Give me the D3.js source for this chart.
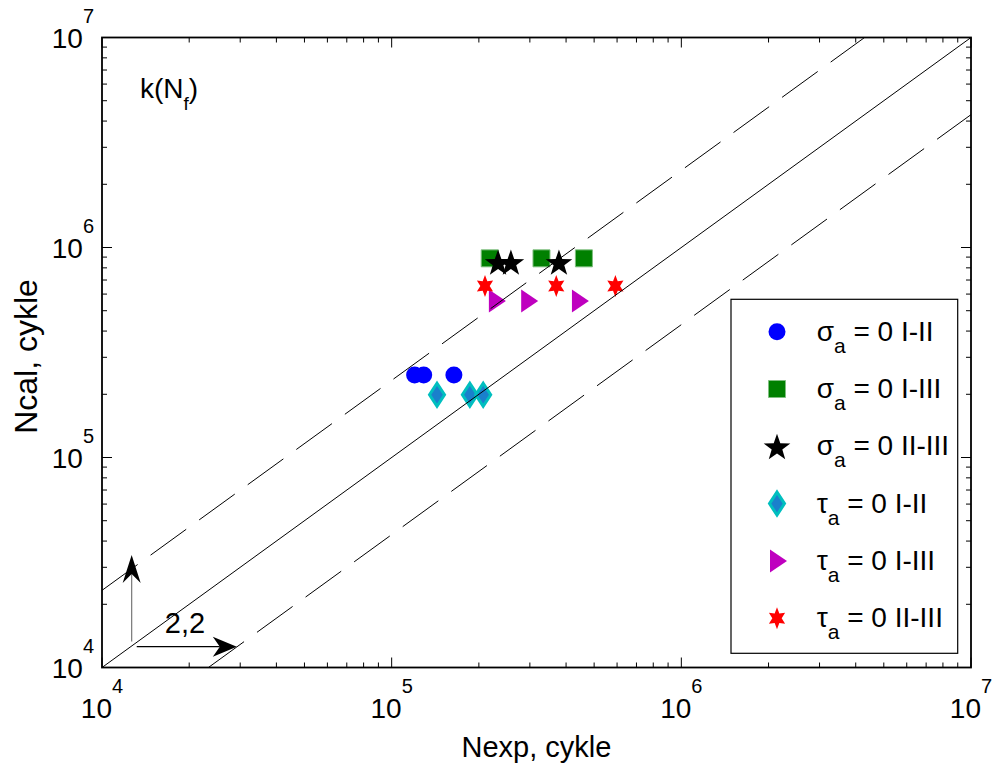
<!DOCTYPE html>
<html><head><meta charset="utf-8">
<script src="https://cdn.jsdelivr.net/npm/d3@7"></script>
<style>
body{margin:0;background:#fff;}
svg{display:block;font-family:"Liberation Sans",Arial,sans-serif;}
</style></head>
<body><svg id="c" width="998" height="769"></svg>
<script>
// ---- data ----
const majorTicks = [1e4, 1e5, 1e6, 1e7];
const tickExponents = ["4", "5", "6", "7"];
const seriesNames = ["σ|a| = 0 I-II", "σ|a| = 0 I-III", "σ|a| = 0 II-III", "τ|a| = 0 I-II", "τ|a| = 0 I-III", "τ|a| = 0 II-III"];
const sigmaI_II_exp   = [1.20e5, 1.29e5, 1.64e5];
const sigmaI_II_cal   = [2.47e5, 2.47e5, 2.47e5];
const sigmaI_III_exp  = [2.18e5, 3.29e5, 4.61e5];
const sigmaI_III_cal  = [8.88e5, 8.88e5, 8.88e5];
const sigmaII_III_exp = [2.33e5, 2.58e5, 3.78e5];
const sigmaII_III_cal = [8.53e5, 8.53e5, 8.53e5];
const tauI_II_exp     = [1.434e5, 1.862e5, 2.07e5];
const tauI_II_cal     = [1.99e5, 1.99e5, 1.99e5];
const tauI_III_exp    = [2.29e5, 2.96e5, 4.43e5];
const tauI_III_cal    = [5.56e5, 5.56e5, 5.56e5];
const tauII_III_exp   = [2.10e5, 3.70e5, 5.92e5];
const tauII_III_cal   = [6.55e5, 6.55e5, 6.55e5];
const scatterBandFactor = 2.33;   // dashed scatter band (labelled 2,2)
const arrowVert = [[1.266e4, 1.33e4], [1.266e4, 3.43e4]];
const arrowHoriz = [[1.318e4, 1.257e4], [2.92e4, 1.257e4]];
const bandLabel = "2,2";
const bandLabelPos = [1.934e4, 1.459e4];
const xTitle = "Nexp, cykle";
const yTitle = "Ncal, cykle";
const panelLabel = ["k(N", "f", ")"];

// ---- layout ----
const L = 102, R = 971, T = 37.5, B = 667.5;
const svg = d3.select("#c");
const x = d3.scaleLog().domain([1e4, 1e7]).range([L, R]);
const y = d3.scaleLog().domain([1e4, 1e7]).range([B, T]);

const series = [
  {name: seriesNames[0], xs: sigmaI_II_exp, ys: sigmaI_II_cal, shape: "circle", fill: "#0000ff", stroke: "#0000ff", sw: 0},
  {name: seriesNames[1], xs: sigmaI_III_exp, ys: sigmaI_III_cal, shape: "square", fill: "#008000", stroke: "#7fbf7f", sw: 1},
  {name: seriesNames[2], xs: sigmaII_III_exp, ys: sigmaII_III_cal, shape: "star", fill: "#000000", stroke: "#000000", sw: 0},
  {name: seriesNames[3], xs: tauI_II_exp, ys: tauI_II_cal, shape: "diamond", fill: "#1a80cc", stroke: "#00bfbf", sw: 3},
  {name: seriesNames[4], xs: tauI_III_exp, ys: tauI_III_cal, shape: "triright", fill: "#bf00bf", stroke: "#bf00bf", sw: 0},
  {name: seriesNames[5], xs: tauII_III_exp, ys: tauII_III_cal, shape: "hexagram", fill: "#ff0000", stroke: "#ff0000", sw: 0}
];

function shapePath(s) {
  const p = d3.path();
  if (s === "circle") { p.arc(0, 0, 8.5, 0, 2 * Math.PI); }
  else if (s === "square") { p.rect(-8.5, -8.5, 17, 17); }
  else if (s === "diamond") { p.moveTo(0, -11.5); p.lineTo(7.5, 0); p.lineTo(0, 11.5); p.lineTo(-7.5, 0); p.closePath(); }
  else if (s === "triright") { p.moveTo(-7, -11.5); p.lineTo(10, 0); p.lineTo(-7, 11.5); p.closePath(); }
  else if (s === "star") {
    const Ro = 14, Ri = 5.6;
    for (let i = 0; i < 10; i++) {
      const r = i % 2 ? Ri : Ro, a = -Math.PI / 2 + i * Math.PI / 5;
      const px = r * Math.cos(a), py = r * Math.sin(a) + 1.5;
      i ? p.lineTo(px, py) : p.moveTo(px, py);
    }
    p.closePath();
  } else if (s === "hexagram") {
    const Ro = 11, Ri = 5.5;
    for (let i = 0; i < 12; i++) {
      const r = i % 2 ? Ri : Ro, a = -Math.PI / 2 + i * Math.PI / 6;
      const px = r * Math.cos(a) * 0.85, py = r * Math.sin(a);
      i ? p.lineTo(px, py) : p.moveTo(px, py);
    }
    p.closePath();
  }
  return p.toString();
}

// clip
svg.append("defs").append("clipPath").attr("id", "clip")
  .append("rect").attr("x", L).attr("y", T).attr("width", R - L).attr("height", B - T);

// markers
series.forEach(s => {
  svg.append("g").selectAll("path").data(s.xs.map((v, i) => [v, s.ys[i]])).join("path")
    .attr("d", shapePath(s.shape))
    .attr("transform", d => `translate(${x(d[0])},${y(d[1])})`)
    .attr("fill", s.fill).attr("stroke", s.stroke).attr("stroke-width", s.sw)
    .attr("stroke-linejoin", "miter");
});

// diagonal lines
const lg = svg.append("g").attr("clip-path", "url(#clip)");
const line = d3.line().x(d => x(d[0])).y(d => y(d[1]));
lg.append("path").attr("d", line([[1e4, 1e4], [1e7, 1e7]]))
  .attr("stroke", "#000").attr("stroke-width", 1).attr("fill", "none");
lg.append("path").attr("d", line([[1e4, 1e4 * scatterBandFactor], [1e7 / scatterBandFactor, 1e7]]))
  .attr("stroke", "#000").attr("stroke-width", 1).attr("fill", "none").attr("stroke-dasharray", "44,16");
lg.append("path").attr("d", line([[1e4 * scatterBandFactor, 1e4], [1e7, 1e7 / scatterBandFactor]]))
  .attr("stroke", "#000").attr("stroke-width", 1).attr("fill", "none").attr("stroke-dasharray", "44,16");

// arrows
function arrow(pts, color, len, hw, notch) {
  const x1 = x(pts[0][0]), y1 = y(pts[0][1]), x2 = x(pts[1][0]), y2 = y(pts[1][1]);
  const a = Math.atan2(y2 - y1, x2 - x1), ux = Math.cos(a), uy = Math.sin(a);
  svg.append("line").attr("x1", x1).attr("y1", y1).attr("x2", x2 - ux * notch).attr("y2", y2 - uy * notch)
    .attr("stroke", color).attr("stroke-width", 1.2);
  const bx = x2 - ux * len, by = y2 - uy * len;
  const nx = x2 - ux * notch, ny = y2 - uy * notch;
  const hp = d3.path();
  hp.moveTo(x2, y2); hp.lineTo(bx - uy * hw, by + ux * hw); hp.lineTo(nx, ny); hp.lineTo(bx + uy * hw, by - ux * hw); hp.closePath();
  svg.append("path").attr("d", hp.toString()).attr("fill", "#000");
}
arrow(arrowVert, "#777", 28, 9, 19);
arrow(arrowHoriz, "#000", 24, 10, 17);
svg.append("text").attr("x", x(bandLabelPos[0])).attr("y", y(bandLabelPos[1])).attr("text-anchor", "middle")
  .attr("font-size", 29).text(bandLabel);

// panel label
const pl = svg.append("text").attr("x", 140).attr("y", 98).attr("font-size", 28);
pl.append("tspan").text(panelLabel[0]);
pl.append("tspan").attr("font-size", 19).attr("dy", 12).text(panelLabel[1]);
pl.append("tspan").attr("dy", -12).text(panelLabel[2]);

// axes box and ticks
const ag = svg.append("g");
const minor = x.ticks().filter(v => !majorTicks.includes(v));
const minorY = y.ticks().filter(v => !majorTicks.includes(v));
minor.forEach(v => {
  ag.append("line").attr("x1", x(v)).attr("x2", x(v)).attr("y1", B).attr("y2", B - 5).attr("stroke", "#000");
  ag.append("line").attr("x1", x(v)).attr("x2", x(v)).attr("y1", T).attr("y2", T + 5).attr("stroke", "#000");
});
minorY.forEach(v => {
  ag.append("line").attr("y1", y(v)).attr("y2", y(v)).attr("x1", L).attr("x2", L + 5).attr("stroke", "#000");
  ag.append("line").attr("y1", y(v)).attr("y2", y(v)).attr("x1", R).attr("x2", R - 5).attr("stroke", "#000");
});
majorTicks.forEach(v => {
  ag.append("line").attr("x1", x(v)).attr("x2", x(v)).attr("y1", B).attr("y2", B - 10).attr("stroke", "#000");
  ag.append("line").attr("x1", x(v)).attr("x2", x(v)).attr("y1", T).attr("y2", T + 10).attr("stroke", "#000");
  ag.append("line").attr("y1", y(v)).attr("y2", y(v)).attr("x1", L).attr("x2", L + 10).attr("stroke", "#000");
  ag.append("line").attr("y1", y(v)).attr("y2", y(v)).attr("x1", R).attr("x2", R - 10).attr("stroke", "#000");
});
ag.append("rect").attr("x", L).attr("y", T).attr("width", R - L).attr("height", B - T)
  .attr("fill", "none").attr("stroke", "#000").attr("stroke-width", 1.8);

// tick labels
majorTicks.forEach((v, i) => {
  const tx = svg.append("text").attr("x", x(v)).attr("y", B + 50.5).attr("text-anchor", "middle").attr("font-size", 28);
  tx.append("tspan").text("10");
  tx.append("tspan").attr("font-size", 20).attr("dy", -25).text(tickExponents[i]);
  const ty = svg.append("text").attr("x", 94).attr("y", y(v) + 10.5).attr("text-anchor", "end").attr("font-size", 28);
  ty.append("tspan").text("10");
  ty.append("tspan").attr("font-size", 20).attr("dy", -25).text(tickExponents[i]);
});

// axis titles
svg.append("text").attr("x", (L + R) / 2).attr("y", 757).attr("text-anchor", "middle").attr("font-size", 29).text(xTitle);
svg.append("text").attr("transform", `translate(37,${(T + B) / 2 + 4}) rotate(-90)`).attr("text-anchor", "middle")
  .attr("font-size", 32).text(yTitle);

// legend
const lgX = 731, lgY = 299.3, lgW = 226.7, lgH = 354;
const leg = svg.append("g");
leg.append("rect").attr("x", lgX).attr("y", lgY).attr("width", lgW).attr("height", lgH)
  .attr("fill", "#fff").attr("stroke", "#000").attr("stroke-width", 1.2);
series.forEach((s, i) => {
  const cy = 331.7 + i * 57.3;
  leg.append("path").attr("d", shapePath(s.shape)).attr("transform", `translate(777,${cy})`)
    .attr("fill", s.fill).attr("stroke", s.stroke).attr("stroke-width", s.sw);
  const parts = s.name.split("|");
  const t = leg.append("text").attr("x", 816.7).attr("y", cy + 9).attr("font-size", 28);
  t.append("tspan").text(parts[0]);
  t.append("tspan").attr("font-size", 21).attr("dy", 12).text(parts[1]);
  t.append("tspan").attr("dy", -12).text(parts[2]);
});
</script></body></html>
